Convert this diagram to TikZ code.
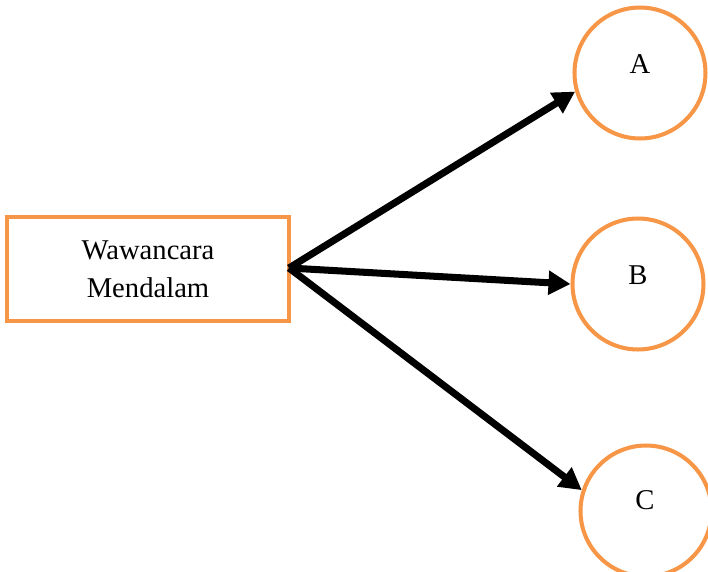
\documentclass[tikz,border=0pt]{standalone}
\usepackage{fontspec}
\setmainfont{Liberation Serif}
\usepackage{tikz}
\usetikzlibrary{arrows.meta, positioning}
\definecolor{myorange}{RGB}{247,150,70}
\definecolor{mydark}{RGB}{0,0,0}
\tikzset{
  kotak/.style={rectangle, draw=myorange, fill=white,
    minimum width=5.64cm, minimum height=2.08cm, align=center,
    font=\fontsize{16.3}{21.5}\selectfont, line width=2.3pt},
  bulat/.style={circle, draw=myorange, fill=white,
    minimum size=2.62cm, inner sep=0pt, line width=2.3pt},
  huruf/.style={font=\fontsize{16.3}{20}\selectfont, inner sep=0pt},
  panah/.style={-{Triangle[length=0.44cm, width=0.46cm]}, line width=4pt, color=mydark}
}

\begin{document}
\begin{tikzpicture}[x=0.02cm, y=-0.02cm]
  \useasboundingbox (0,0) rectangle (708,572);
  \begin{scope}
  \clip (0,0) rectangle (708,572);
  \node[kotak] (wawancara) at (148,269) {Wawancara\\Mendalam};
  \node[bulat] (a) at (640,73) {};
  \node[bulat] (b) at (638,284) {};
  \node[bulat] (c) at (646,511) {};
  \node[huruf] (ta) at (640,64) {A};
  \node[huruf] (tb) at (638,275) {B};
  \node[huruf] (tc) at (645,500) {C};
  \coordinate (pangkal) at (289,268);
  % panah ke tiga lingkaran
  \draw[panah] (pangkal) -- (a.196);
  \draw[panah] (pangkal) -- (b.180);
  \draw[panah] (pangkal) -- (c.162);
  \end{scope}
\end{tikzpicture}
\end{document}
